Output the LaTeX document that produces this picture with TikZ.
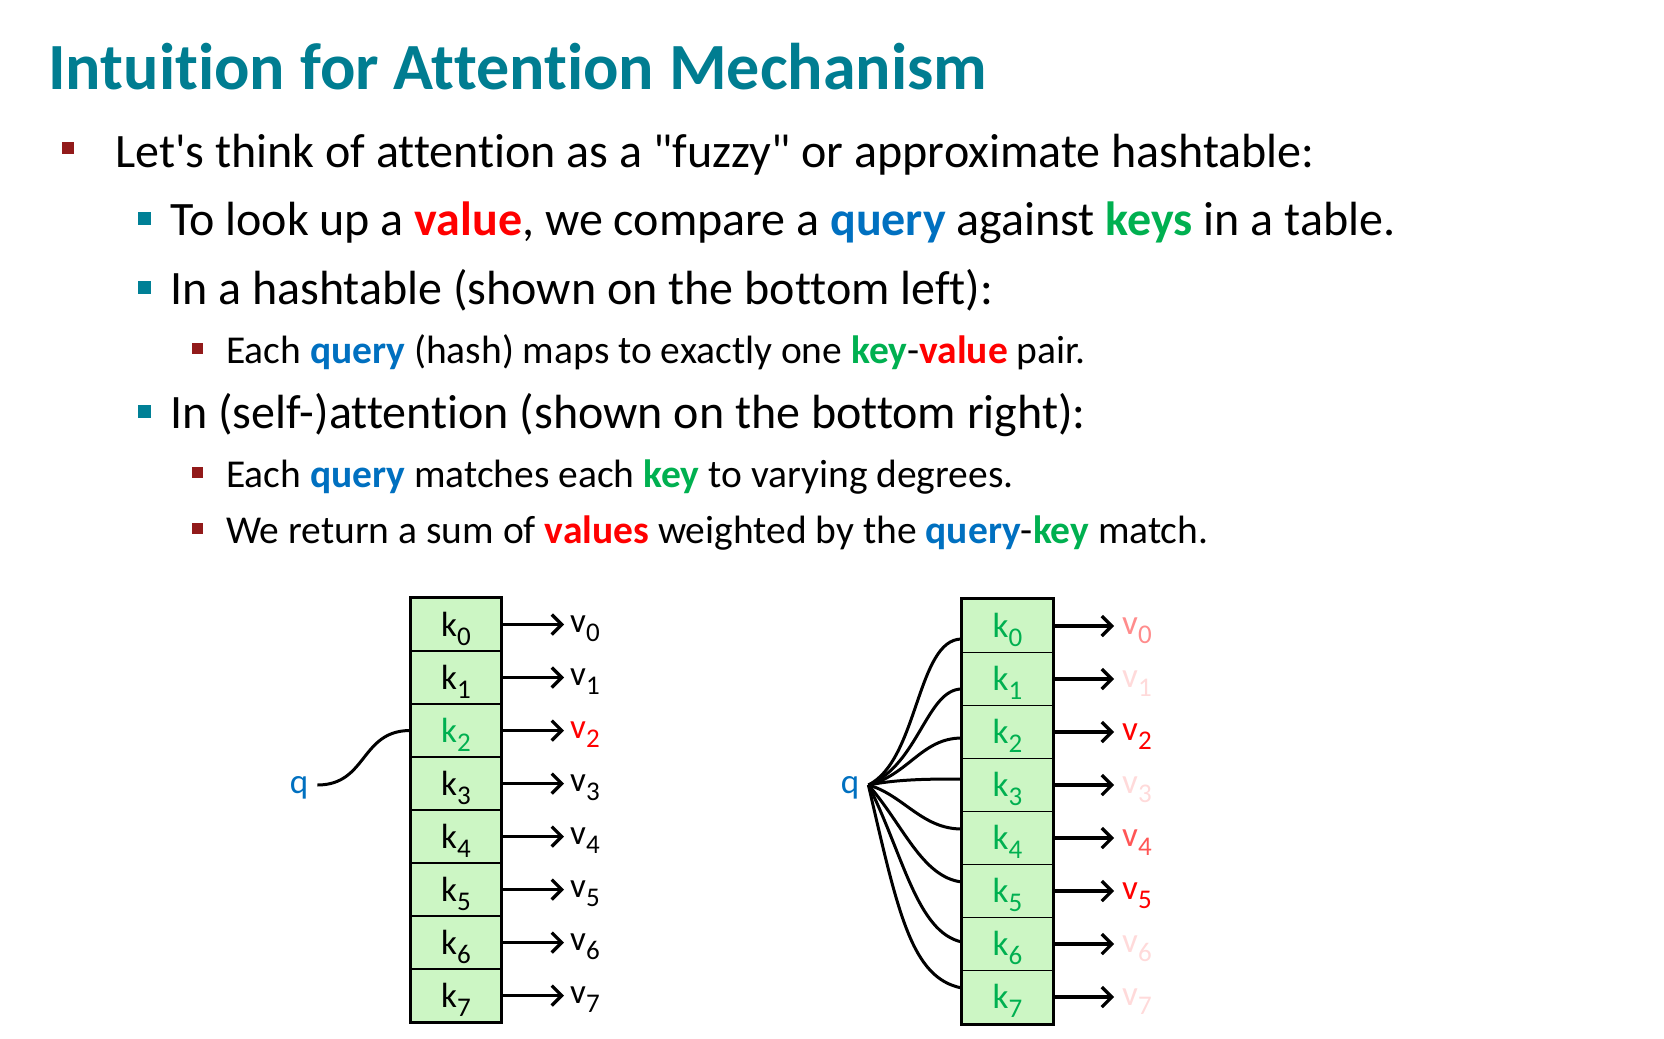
\documentclass[tikz,border=0pt]{standalone}
\usepackage{fontspec}
\setmainfont{Carlito}[Ligatures={TeXOff,NoCommon}]
\usetikzlibrary{arrows.meta,positioning}

\definecolor{ttlteal}{RGB}{0,125,145}
\definecolor{bulteal}{RGB}{0,128,150}
\definecolor{bulred}{RGB}{146,26,26}
\definecolor{qblue}{RGB}{0,112,192}
\definecolor{kgreen}{RGB}{0,176,80}
\definecolor{vred}{RGB}{255,0,0}
\definecolor{vpink}{RGB}{255,140,140}
\definecolor{vmid}{RGB}{255,85,85}
\definecolor{vpale}{RGB}{255,218,218}
\definecolor{cellgreen}{RGB}{204,246,196}

\newcommand{\qw}[1]{\textcolor{qblue}{\textbf{#1}}}
\newcommand{\kw}[1]{\textcolor{kgreen}{\textbf{#1}}}
\newcommand{\vw}[1]{\textcolor{vred}{\textbf{#1}}}
\newcommand{\lowidx}[1]{\raisebox{-9pt}{\fontsize{27}{27}\selectfont #1}}

\begin{document}
\begin{tikzpicture}[x=1pt, y=-1pt,
  ttl/.style={anchor=base west, inner sep=0, text=ttlteal,
              font=\fontsize{66}{66}\selectfont\bfseries},
  lone/.style={anchor=base west, inner sep=0, font=\fontsize{48}{48}\selectfont},
  lthree/.style={anchor=base west, inner sep=0, font=\fontsize{39.5}{39.5}\selectfont},
  mkone/.style={fill=bulred, minimum size=12pt, inner sep=0},
  mktwo/.style={fill=bulteal, minimum size=13pt, inner sep=0},
  mkthree/.style={fill=bulred, minimum size=11pt, inner sep=0},
  cell/.style={draw, line width=1.5pt, fill=cellgreen, minimum width=90pt,
               minimum height=53pt, inner sep=0, text height=23pt, text depth=0pt,
               font=\fontsize{35}{35}\selectfont},
  vlbl/.style={anchor=west, inner sep=0, text height=16pt, text depth=0pt,
               font=\fontsize{35}{35}\selectfont},
  qlbl/.style={text=qblue, inner xsep=9pt, inner ysep=0, text height=16pt,
               text depth=0pt, font=\fontsize{35}{35}\selectfont},
  varr/.style={-{Straight Barb[length=10pt,width=20pt]}, line width=3.2pt},
  qcurve/.style={line width=3pt},
]
\useasboundingbox (0,0) rectangle (1664,1038);

% title and bullets
\node[ttl] (title) at (48,90) {Intuition for Attention Mechanism};

\node[mkone] (m1) at (68,148) {};
\node[lone] (t1) at (115,167) {Let's think of attention as a "fuzzy" or approximate hashtable:};

\node[mktwo] (m2) at (144,218) {};
\node[lone] (t2) at (170,235) {To look up a \vw{value}, we compare a \qw{query} against \kw{keys} in a table.};

\node[mktwo] (m3) at (144,287) {};
\node[lone] (t3) at (170,304) {In a hashtable (shown on the bottom left):};

\node[mkthree] (m4) at (197,348) {};
\node[lthree] (t4) at (226,363) {Each \qw{query} (hash) maps to exactly one \kw{key}-\vw{value} pair.};

\node[mktwo] (m5) at (144,411) {};
\node[lone] (t5) at (170,428) {In (self-)attention (shown on the bottom right):};

\node[mkthree] (m6) at (197,472) {};
\node[lthree] (t6) at (226,487) {Each \qw{query} matches each \kw{key} to varying degrees.};

\node[mkthree] (m7) at (197,528) {};
\node[lthree] (t7) at (226,543) {We return a sum of \vw{values} weighted by the \qw{query}-\kw{key} match.};

% hashtable (left)
\foreach \i/\kc/\vc in {0/black/black,1/black/black,2/kgreen/vred,3/black/black,
                        4/black/black,5/black/black,6/black/black,7/black/black} {
  \node[cell, text=\kc] (a\i) at (456,624.5+53*\i) {k\lowidx{\i}};
  \node[vlbl, text=\vc] (va\i) at (570,624.5+53*\i) {v\lowidx{\i}};
  \draw[varr, shorten >=6pt] (a\i.east) -- (a\i.east -| va\i.west);
}
\draw[line width=3pt] (a0.north west) rectangle (a7.south east);

\node[qlbl] (ql) at (299,785) {q};
\draw[qcurve] (ql.east) .. controls +(50,0) and +(-50,0) .. (a2.west);

% self-attention (right)
\foreach \i/\vc in {0/vpink,1/vpale,2/vred,3/vpale,4/vmid,5/vred,6/vpale,7/vpale} {
  \node[cell, text=kgreen] (b\i) at (1007.5,626+53*\i) {k\lowidx{\i}};
  \node[vlbl, text=\vc] (vb\i) at (1122,626+53*\i) {v\lowidx{\i}};
  \draw[varr, shorten >=8pt] (b\i.east) -- (b\i.east -| vb\i.west);
}
\draw[line width=3pt] (b0.north west) rectangle (b7.south east);

\node[qlbl] (qr) at (850,785) {q};
\foreach \i/\dy/\ax/\ay/\bx/\by in {0/13/50/-25/-45/0, 1/10/50/-20/-35/0,
    2/6/40/-10/-40/0, 3/-6/30/-6/-30/0, 4/-9/35/10/-40/0,
    5/-9/35/40/-40/-5, 6/-2/35/70/-45/-10, 7/-9/30/130/-50/-10} {
  \draw[qcurve] (qr.east) .. controls +(\ax,\ay) and +(\bx,\by) .. ([yshift=-\dy pt]b\i.west);
}
\end{tikzpicture}
\end{document}
